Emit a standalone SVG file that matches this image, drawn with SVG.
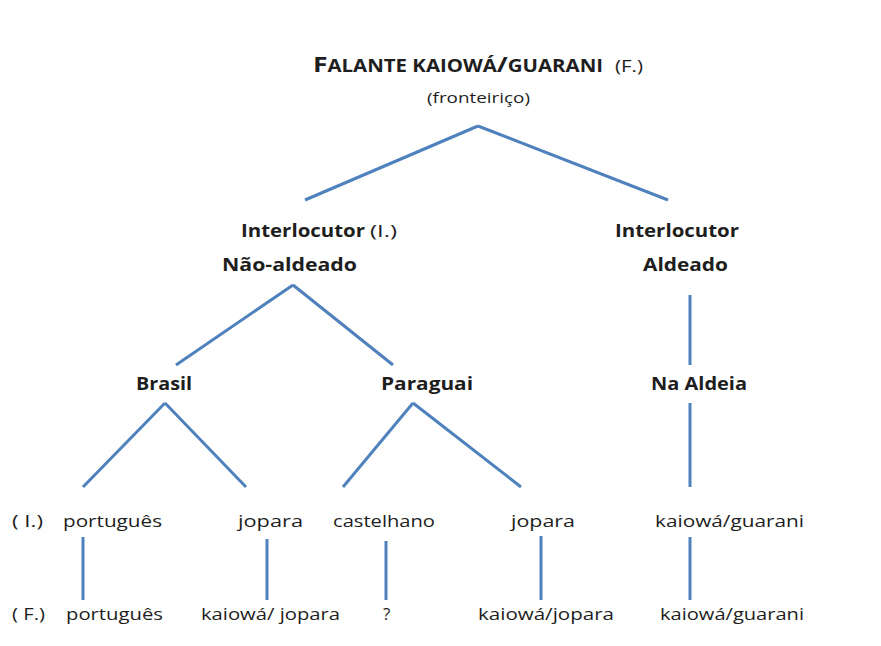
<svg xmlns="http://www.w3.org/2000/svg" width="881" height="646" viewBox="0 0 881 646">
<style>
text{font-family:"Open Sans","Noto Sans","Liberation Sans",sans-serif;fill:#1e1e1e;}
.b{font-weight:bold;font-size:18px;}
.n{font-size:17px;}
.s{font-size:14px;}
#connectors line{stroke:#4f81bd;stroke-width:3;stroke-linecap:butt;}
</style>
<rect width="881" height="646" fill="#fff"/>
<g id="connectors">
<line x1="478" y1="126" x2="305" y2="200"/>
<line x1="478" y1="126" x2="668" y2="200"/>
<line x1="293" y1="285" x2="176" y2="365"/>
<line x1="293" y1="285" x2="393" y2="365"/>
<line x1="690" y1="295" x2="690" y2="365"/>
<line x1="165" y1="403" x2="83" y2="487"/>
<line x1="165" y1="403" x2="246" y2="487"/>
<line x1="413" y1="403" x2="343" y2="487"/>
<line x1="413" y1="403" x2="521" y2="487"/>
<line x1="690" y1="403" x2="690" y2="487"/>
<line x1="83" y1="537" x2="83" y2="600"/>
<line x1="267" y1="539" x2="267" y2="600"/>
<line x1="386" y1="541" x2="386" y2="600"/>
<line x1="541" y1="536" x2="541" y2="600"/>
<line x1="690" y1="537" x2="690" y2="600"/>
</g>
<g id="root">
<text x="313" y="72" font-weight="bold" textLength="290" lengthAdjust="spacingAndGlyphs"><tspan font-size="22">F</tspan><tspan font-size="17">ALANTE KAIOWÁ</tspan><tspan font-size="22">/</tspan><tspan font-size="17">GUARANI</tspan></text>
<text x="615" y="72" class="n" textLength="28" lengthAdjust="spacingAndGlyphs">(F.)</text>
<text x="427" y="103" class="s" textLength="103" lengthAdjust="spacingAndGlyphs">(fronteiriço)</text>
</g>
<g id="nao-aldeado">
<text x="241" y="237" class="b" textLength="124" lengthAdjust="spacingAndGlyphs">Interlocutor</text>
<text x="370" y="237" class="n" textLength="27" lengthAdjust="spacingAndGlyphs">(I.)</text>
<text x="222" y="271" class="b" textLength="135" lengthAdjust="spacingAndGlyphs">Não-aldeado</text>
</g>
<g id="aldeado">
<text x="615" y="237" class="b" textLength="124" lengthAdjust="spacingAndGlyphs">Interlocutor</text>
<text x="643" y="271" class="b" textLength="85" lengthAdjust="spacingAndGlyphs">Aldeado</text>
</g>
<g id="brasil"><text x="136" y="390" class="b" textLength="56" lengthAdjust="spacingAndGlyphs">Brasil</text></g>
<g id="paraguai"><text x="381" y="390" class="b" textLength="92" lengthAdjust="spacingAndGlyphs">Paraguai</text></g>
<g id="na-aldeia"><text x="651" y="390" class="b" textLength="96" lengthAdjust="spacingAndGlyphs">Na Aldeia</text></g>
<g id="label-i"><text x="12" y="527" class="n" textLength="31" lengthAdjust="spacingAndGlyphs">( I.)</text></g>
<g id="label-f"><text x="12" y="620" class="n" textLength="33" lengthAdjust="spacingAndGlyphs">( F.)</text></g>
<g id="i-portugues"><text x="63" y="527" class="n" textLength="99" lengthAdjust="spacingAndGlyphs">português</text></g>
<g id="i-jopara-br"><text x="238" y="527" class="n" textLength="65" lengthAdjust="spacingAndGlyphs">jopara</text></g>
<g id="i-castelhano"><text x="333" y="527" class="n" textLength="102" lengthAdjust="spacingAndGlyphs">castelhano</text></g>
<g id="i-jopara-py"><text x="511" y="527" class="n" textLength="64" lengthAdjust="spacingAndGlyphs">jopara</text></g>
<g id="i-kaiowa"><text x="655" y="527" class="n" textLength="149" lengthAdjust="spacingAndGlyphs">kaiowá/guarani</text></g>
<g id="f-portugues"><text x="66" y="620" class="n" textLength="97" lengthAdjust="spacingAndGlyphs">português</text></g>
<g id="f-kaiowa-jopara-br"><text x="201" y="620" class="n" textLength="139" lengthAdjust="spacingAndGlyphs">kaiowá/ jopara</text></g>
<g id="f-question"><text x="383" y="620" class="n">?</text></g>
<g id="f-kaiowa-jopara-py"><text x="478" y="620" class="n" textLength="136" lengthAdjust="spacingAndGlyphs">kaiowá/jopara</text></g>
<g id="f-kaiowa-guarani"><text x="660" y="620" class="n" textLength="144" lengthAdjust="spacingAndGlyphs">kaiowá/guarani</text></g>
</svg>
